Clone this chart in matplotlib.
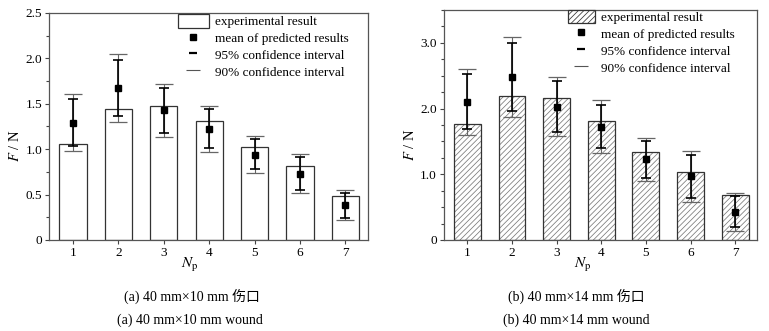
import numpy as np
import matplotlib
matplotlib.use('Agg')
import matplotlib.pyplot as plt
from matplotlib.lines import Line2D
from matplotlib.patches import Patch
from matplotlib.ticker import FuncFormatter, MultipleLocator

plt.rcParams['font.family'] = ['Liberation Serif', 'Noto Sans CJK SC']
plt.rcParams['mathtext.fontset'] = 'stix'
plt.rcParams['hatch.linewidth'] = 0.55

np_vals = [1, 2, 3, 4, 5, 6, 7]

# (a) 40 mm x 10 mm wound
exp_a = [1.06, 1.44, 1.48, 1.31, 1.02, 0.81, 0.48]
mean_a = [1.29, 1.67, 1.43, 1.22, 0.94, 0.73, 0.38]
ci95_lo_a = [1.03, 1.36, 1.18, 1.015, 0.78, 0.55, 0.24]
ci95_hi_a = [1.55, 1.98, 1.675, 1.44, 1.11, 0.91, 0.52]
ci90_lo_a = [0.975, 1.30, 1.135, 0.97, 0.74, 0.52, 0.215]
ci90_hi_a = [1.61, 2.045, 1.72, 1.48, 1.145, 0.945, 0.545]

# (b) 40 mm x 14 mm wound
exp_b = [1.76, 2.19, 2.16, 1.81, 1.34, 1.04, 0.68]
mean_b = [2.10, 2.48, 2.03, 1.72, 1.225, 0.97, 0.43]
ci95_lo_b = [1.69, 1.96, 1.65, 1.40, 0.95, 0.635, 0.19]
ci95_hi_b = [2.52, 3.00, 2.42, 2.055, 1.505, 1.29, 0.67]
ci90_lo_b = [1.60, 1.87, 1.585, 1.33, 0.895, 0.575, 0.14]
ci90_hi_b = [2.60, 3.095, 2.485, 2.125, 1.555, 1.35, 0.72]

fig = plt.figure(figsize=(7.69, 3.31), dpi=100)
ax_a = fig.add_axes([0.0637, 0.275, 0.415, 0.686])
ax_b = fig.add_axes([0.577, 0.275, 0.408, 0.695])


def fmt(v, pos):
    return '0' if abs(v) < 1e-9 else f'{v:.1f}'


def draw(ax, exp, mean, lo95, hi95, lo90, hi90, ymax, major, hatch):
    x = np.array(np_vals)
    mean = np.array(mean)
    if hatch:
        # hatch in gray, outline drawn separately in dark gray
        ax.bar(x, exp, width=0.6, facecolor='white', edgecolor='#7a7a7a',
               linewidth=0, hatch=hatch, zorder=2)
        ax.bar(x, exp, width=0.6, facecolor='none', edgecolor='#333333',
               linewidth=0.9, zorder=2)
    else:
        ax.bar(x, exp, width=0.6, facecolor='white', edgecolor='#333333',
               linewidth=0.9, zorder=2)
    ax.errorbar(x, mean, yerr=[mean - np.array(lo90), np.array(hi90) - mean],
                fmt='none', ecolor='#666666', elinewidth=0.8, capsize=6.5,
                capthick=0.9, zorder=3)
    ax.errorbar(x, mean, yerr=[mean - np.array(lo95), np.array(hi95) - mean],
                fmt='none', ecolor='black', elinewidth=1.2, capsize=3.3,
                capthick=1.2, zorder=4)
    ax.plot(x, mean, 's', color='black', markersize=5, zorder=5)

    ax.set_xlim(0.47, 7.5)
    ax.set_ylim(0, ymax)
    ax.set_xticks(np_vals)
    ax.yaxis.set_major_locator(MultipleLocator(major))
    ax.yaxis.set_minor_locator(MultipleLocator(0.25))
    ax.yaxis.set_major_formatter(FuncFormatter(fmt))
    ax.tick_params(axis='both', which='major', direction='out', length=3,
                   width=0.8, color='#444444', labelsize=9.5, pad=2)
    ax.tick_params(axis='y', which='minor', direction='out', length=2,
                   width=0.8, color='#444444')
    for s in ax.spines.values():
        s.set_color('#555555')
        s.set_linewidth(0.9)

    ax.set_ylabel(r'$F$ / N', fontsize=10.5)
    ax.yaxis.label.set_va('center')
    ax.yaxis.set_label_coords(-0.107, 0.414)
    ax.set_xlabel(r'$N_{\mathrm{p}}$', fontsize=11)
    ax.xaxis.label.set_va('center')
    ax.xaxis.set_label_coords(0.442, -0.11)

    handles = [
        Patch(facecolor='white', edgecolor='#333333', linewidth=0.9,
              hatch=hatch if hatch else None),
        Line2D([], [], ls='none', marker='s', color='black', markersize=5),
        Line2D([], [], ls='none', marker='_', color='black', markersize=6,
               markeredgewidth=1.6),
        Line2D([], [], ls='none', marker='_', color='#555555', markersize=10,
               markeredgewidth=0.8),
    ]
    labels = ['experimental result', 'mean of predicted results',
              '95% confidence interval', '90% confidence interval']
    return handles, labels


h, l = draw(ax_a, exp_a, mean_a, ci95_lo_a, ci95_hi_a, ci90_lo_a, ci90_hi_a,
            2.5, 0.5, '')
ax_a.legend(h, l, loc='upper left', bbox_to_anchor=(0.405, 0.995),
            frameon=False, fontsize=9.5, handlelength=2.3, handleheight=1.2,
            handletextpad=0.5, labelspacing=0.2, borderpad=0, borderaxespad=0)

h, l = draw(ax_b, exp_b, mean_b, ci95_lo_b, ci95_hi_b, ci90_lo_b, ci90_hi_b,
            3.5, 1.0, '//////')
ax_b.legend(h, l, loc='upper left', bbox_to_anchor=(0.395, 1.0),
            frameon=False, fontsize=9.5, handlelength=2.1, handleheight=1.2,
            handletextpad=0.4, labelspacing=0.2, borderpad=0, borderaxespad=0)

# panel captions in Chinese and English
fig.text(192 / 769, 1 - 296 / 331, '(a) 40 mm×10 mm 伤口', ha='center',
         va='center', fontsize=10)
fig.text(190 / 769, 1 - 320 / 331, '(a) 40 mm×10 mm wound', ha='center',
         va='center', fontsize=10)
fig.text(576 / 769, 1 - 296 / 331, '(b) 40 mm×14 mm 伤口', ha='center',
         va='center', fontsize=10)
fig.text(576 / 769, 1 - 320 / 331, '(b) 40 mm×14 mm wound', ha='center',
         va='center', fontsize=10)

fig.savefig('out.png', dpi=100)
